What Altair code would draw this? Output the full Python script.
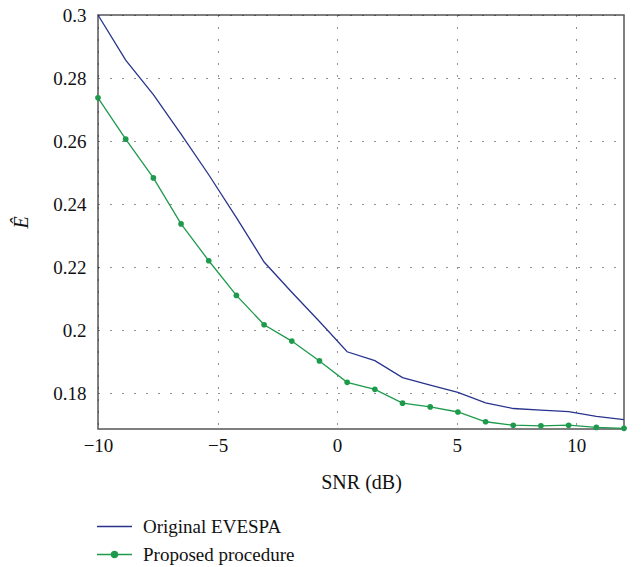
import altair as alt
import pandas as pd

snr = [-10.0, -8.842, -7.684, -6.526, -5.368, -4.211, -3.053, -1.895, -0.737, 0.421,
       1.579, 2.737, 3.895, 5.053, 6.211, 7.368, 8.526, 9.684, 10.842, 12.0]
original = [0.3000, 0.2857, 0.2747, 0.2622, 0.2493, 0.2357, 0.2216, 0.2120, 0.2027, 0.1931,
            0.1903, 0.1849, 0.1825, 0.1802, 0.1769, 0.1751, 0.1746, 0.1741, 0.1726, 0.1716]
proposed = [0.2737, 0.2606, 0.2483, 0.2337, 0.2220, 0.2110, 0.2017, 0.1965, 0.1902, 0.1834,
            0.1812, 0.1768, 0.1756, 0.1740, 0.1709, 0.1698, 0.1696, 0.1698, 0.1691, 0.1688]
series_names = ["Original EVESPA", "Proposed procedure"]
series_colors = ["#28348c", "#1e9a4c"]
legend_shapes = [
    "M-2,0L2,0",
    "M-2,0L2,0M-0.36,0A0.36,0.36 0 1,1 0.36,0A0.36,0.36 0 1,1 -0.36,0Z",
]
x_ticks = [-10, -5, 0, 5, 10]
y_ticks = [0.18, 0.2, 0.22, 0.24, 0.26, 0.28, 0.3]

rows = []
for name, vals in zip(series_names, [original, proposed]):
    for s, v in zip(snr, vals):
        rows.append({"snr": s, "e": v, "series": name})
df = pd.DataFrame(rows)

FONT = "Liberation Serif"

x = alt.X("snr:Q", scale=alt.Scale(domain=[-10, 12], nice=False, zero=False),
          axis=alt.Axis(values=x_ticks, title="SNR (dB)", grid=True, ticks=False,
                        labelFlush=False, labelPadding=7, titlePadding=17))
y = alt.Y("e:Q", scale=alt.Scale(domain=[0.1686, 0.3], nice=False, zero=False),
          axis=alt.Axis(values=y_ticks, format=".2~f", title="Ê", grid=True, ticks=False,
                        labelFlush=False, labelPadding=12, titlePadding=21,
                        titleFontStyle="italic", titleAngle=270))

color_scale = alt.Scale(domain=series_names, range=series_colors)

legend = alt.Legend(
    title=None, orient="none", legendX=7, legendY=502, direction="vertical",
    symbolSize=306, symbolStrokeWidth=1.3, symbolOpacity=1,
    labelFont=FONT, labelFontSize=19, labelOffset=19, rowPadding=8, padding=0,
    labelColor="#111111",
)

base = alt.Chart(df).encode(x=x, y=y)
lines = base.mark_line(strokeWidth=1.3, clip=False).encode(
    color=alt.Color("series:N", scale=color_scale, legend=None))
points = base.transform_filter(alt.datum.series == "Proposed procedure").mark_circle(
    size=32, opacity=1, clip=False).encode(
    color=alt.Color("series:N", scale=color_scale, legend=None))

legend_layer = base.transform_filter("false").mark_point(
    filled=True, strokeWidth=1.3, opacity=1).encode(
    fill=alt.Fill("series:N", scale=alt.Scale(domain=series_names, range=series_colors),
                  legend=legend),
    stroke=alt.Stroke("series:N", scale=alt.Scale(domain=series_names, range=series_colors),
                      legend=legend),
    shape=alt.Shape("series:N", scale=alt.Scale(domain=series_names, range=legend_shapes),
                    legend=legend),
)

chart = (lines + points + legend_layer).resolve_scale(
    fill="independent", stroke="independent", shape="independent"
).properties(
    width=526, height=414,
    autosize=alt.AutoSizeParams(type="none"),
    padding={"left": 90, "top": 7, "right": 9, "bottom": 140},
).configure(
    font=FONT
).configure_view(
    stroke="#555555", strokeWidth=1.5
).configure_axis(
    labelFont=FONT, titleFont=FONT, labelFontSize=19, titleFontSize=20,
    labelColor="#111111", titleColor="#111111", titleFontWeight="normal",
    gridColor="#222222", gridDash=[1, 11], gridWidth=1, gridOpacity=1,
    domain=False
)

chart.save("out.html", embed_options={"renderer": "svg", "actions": False})
